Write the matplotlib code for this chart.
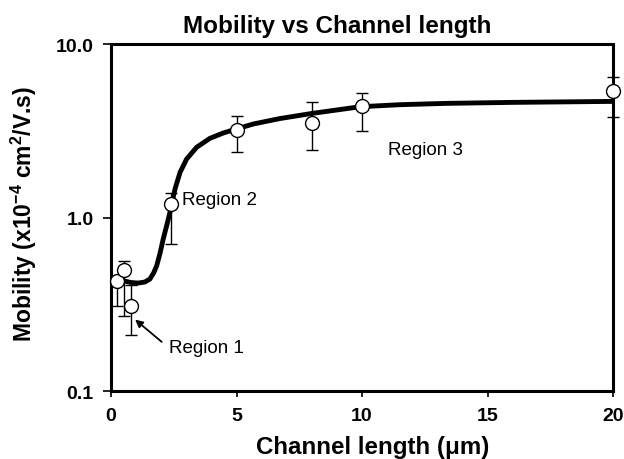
#!/usr/bin/env python3
"""
Mobility vs channel length, log-scale mobility with error bars and fitted curve.
"""
import matplotlib
matplotlib.use('Agg')
import matplotlib.pyplot as plt

# Measured points
length_um = [0.25, 0.5, 0.8, 2.4, 5.0, 8.0, 10.0, 20.0]
mobility = [0.43, 0.50, 0.31, 1.20, 3.21, 3.51, 4.41, 5.34]
err_low = [0.31, 0.27, 0.21, 0.70, 2.40, 2.46, 3.17, 3.81]
err_high = [0.43, 0.56, 0.41, 1.38, 3.86, 4.65, 5.22, 6.43]

# Fitted curve
fit_x = [0.3, 0.49, 0.8, 1.09, 1.35, 1.55, 1.7, 1.82, 1.95, 2.08, 2.22, 2.38,
         2.55, 2.75, 3.01, 3.41, 3.94, 4.47, 5.0, 5.67, 6.73, 8.0, 9.92,
         11.5, 13.37, 16.0, 18.0, 20.0]
fit_y = [0.44, 0.432, 0.422, 0.419, 0.425, 0.442, 0.48, 0.527, 0.62, 0.752,
         0.90, 1.12, 1.46, 1.82, 2.17, 2.54, 2.86, 3.07, 3.24, 3.46, 3.72,
         3.98, 4.35, 4.47, 4.55, 4.61, 4.64, 4.67]

x_ticks = [0, 5, 10, 15, 20]
y_ticks = [0.1, 1.0, 10.0]
y_tick_labels = ['0.1', '1.0', '10.0']

plt.rcParams['font.family'] = ['Liberation Sans', 'DejaVu Sans']
plt.rcParams['mathtext.fontset'] = 'custom'
plt.rcParams['mathtext.rm'] = 'Liberation Sans'
plt.rcParams['mathtext.bf'] = 'Liberation Sans:bold'

fig = plt.figure(figsize=(6.24, 4.6), dpi=100)
ax = fig.add_axes([0.1779, 0.1478, 0.8045, 0.7543])

ax.plot(fit_x, fit_y, color='black', linewidth=3.5,
        solid_capstyle='round', solid_joinstyle='round', zorder=2)

yerr = [[m - lo for m, lo in zip(mobility, err_low)],
        [hi - m for m, hi in zip(mobility, err_high)]]
ax.errorbar(length_um, mobility, yerr=yerr, fmt='o', color='black',
            ecolor='black', elinewidth=1.0, capsize=4.3, capthick=1.0,
            markersize=10, markerfacecolor='white', markeredgecolor='black',
            markeredgewidth=1.0, zorder=3, clip_on=False)

ax.set_yscale('log')
ax.set_xlim(0, 20)
ax.set_ylim(0.1, 10.0)
ax.set_xticks(x_ticks)
ax.set_xticklabels([str(t) for t in x_ticks])
ax.set_yticks(y_ticks)
ax.set_yticklabels(y_tick_labels)
ax.minorticks_off()

ax.tick_params(axis='x', direction='out', length=4.5, width=1.2,
               labelsize=14, pad=7)
ax.tick_params(axis='y', direction='out', length=5.5, width=1.2,
               labelsize=14, pad=7)
for lab in ax.get_xticklabels() + ax.get_yticklabels():
    lab.set_fontweight('bold')
for sp in ax.spines.values():
    sp.set_linewidth(2.2)

fig.text(337.5 / 624, 0.928, 'Mobility vs Channel length', fontsize=17.5,
         fontweight='bold', ha='center', va='baseline')
fig.text(373 / 624, 0.013, 'Channel length (\u03bcm)', fontsize=17.4,
         fontweight='bold', ha='center', va='baseline')
fig.text(0.0385, 0.534,
         r'Mobility (x10$^{\mathbf{-4}}$ cm$^{\mathbf{2}}$/V.s)',
         fontsize=16.5, fontweight='bold', rotation=90,
         ha='center', va='center')

ax.annotate('', xy=(0.96, 0.258), xytext=(2.02, 0.192),
            arrowprops=dict(arrowstyle='-|>', color='black', lw=1.3,
                            shrinkA=0, shrinkB=0, mutation_scale=11))
ax.text(2.31, 0.167, 'Region 1', fontsize=13.5, va='baseline', ha='left')
ax.text(2.82, 1.20, 'Region 2', fontsize=13.5, va='baseline', ha='left')
ax.text(11.04, 2.32, 'Region 3', fontsize=13.5, va='baseline', ha='left')

plt.savefig('out.png', dpi=100)
plt.close()
